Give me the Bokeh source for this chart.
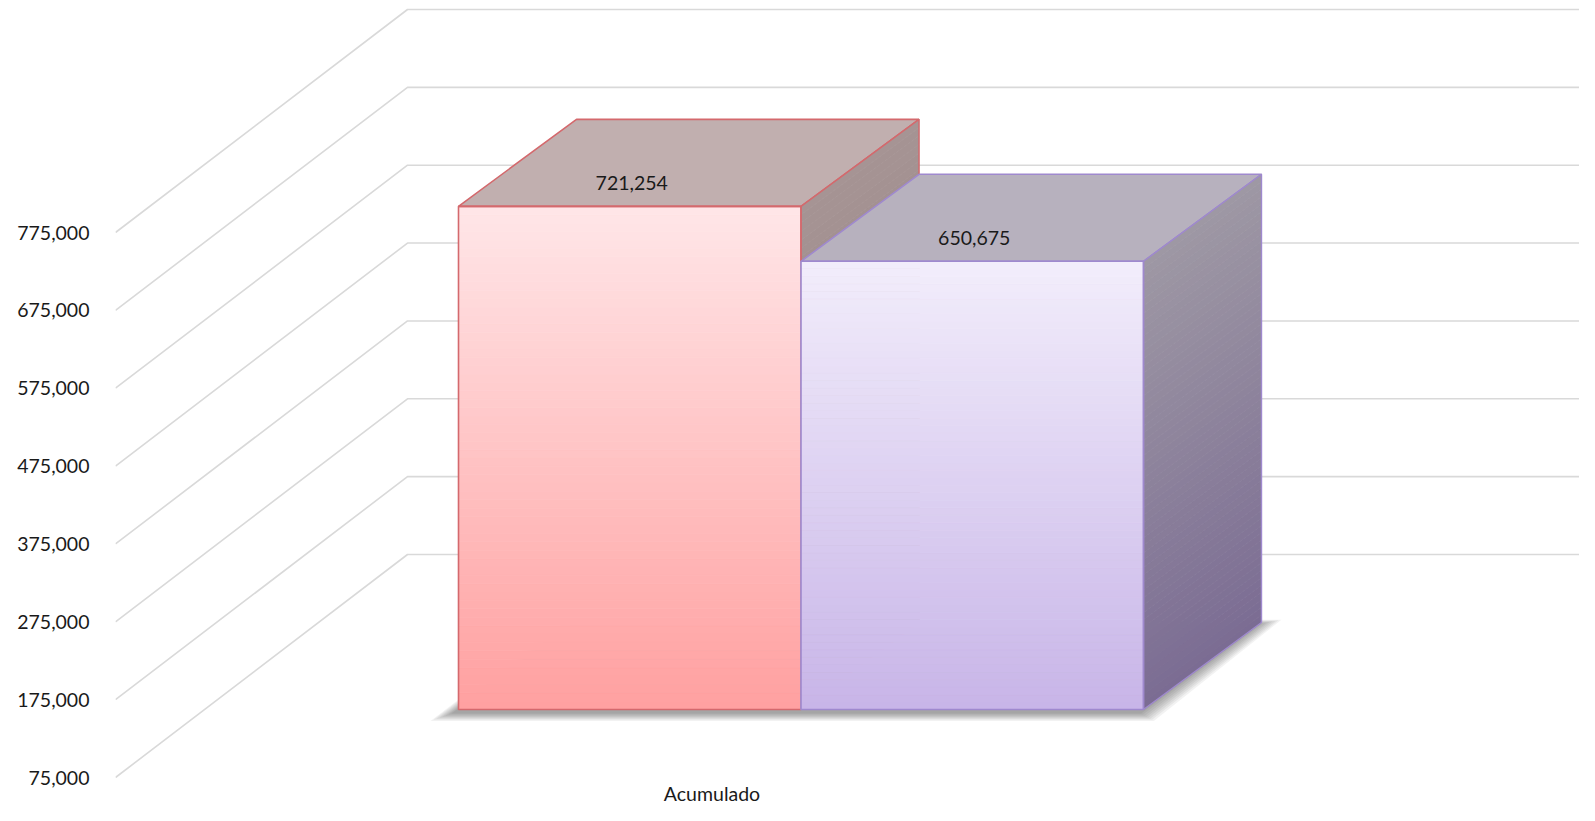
import numpy as np
from bokeh.plotting import figure
from bokeh.models import Range1d, FixedTicker
from bokeh.core.properties import value
from bokeh.embed import file_html
from bokeh.resources import INLINE

# ---------------- data ----------------
categories = ["Acumulado"]
series_values = [721254, 650675]
y_ticks = [75000, 175000, 275000, 375000, 475000, 575000, 675000, 775000]
y_tick_labels = ["75,000", "175,000", "275,000", "375,000", "475,000", "575,000", "675,000", "775,000"]

# ---------------- layout / style ----------------
W, H = 1579, 805
LEFT = 115
PPU = 545.0 / 700000.0          # screen px per value unit
Y0 = y_ticks[0]
BASE_Y = 777                    # screen y of Y0 on the front plane
y_start = Y0 - (H - BASE_Y) / PPU
y_end = y_start + H / PPU
X_LEFT, X_RIGHT = LEFT, W


def up(px):
    return px / PPU


WALL = (292, 223)
FRONT_OFF = (89, 68)
DEPTH = (118, 87)
BAR_W = 342.5
CAT_X = 711.5

FONT = "Lato"
FS = "19.5px"
TXT = "#1a1a1a"

front_cols = [("#FFA0A0", "#FFE6E8"), ("#C8B5E8", "#F2EDFB")]   # (bottom, top)
side_cols = [("#8E7B7B", "#A69494"), ("#7B6C93", "#9E98A4")]
top_cols = ["#C1AFAF", "#B7B1BE"]
edge_cols = ["#D4696D", "#9F89CE"]


def hex2rgb(h):
    h = h.lstrip("#")
    return np.array([int(h[i:i + 2], 16) for i in (0, 2, 4)], dtype=float)


def mix(c0, c1, t):
    a, b = hex2rgb(c0), hex2rgb(c1)
    c = a + (b - a) * t
    return "#%02x%02x%02x" % tuple(int(round(v)) for v in c)


p = figure(width=W, height=H, output_backend="svg", toolbar_location=None,
           x_range=Range1d(X_LEFT, X_RIGHT), y_range=Range1d(y_start, y_end),
           x_axis_location=None, min_border_left=LEFT, min_border_right=0,
           min_border_top=0, min_border_bottom=0)
p.outline_line_color = None
p.xgrid.visible = False
p.ygrid.visible = False
p.background_fill_color = "white"
p.border_fill_color = "white"

# gridlines (front diagonal + back wall)
gx, gy = [], []
for t in y_ticks:
    gx.append([X_LEFT, X_LEFT + WALL[0], X_RIGHT + 10])
    gy.append([t, t + up(WALL[1]), t + up(WALL[1])])
p.multi_line(gx, gy, line_color="#D9D9D9", line_width=1.6)

# y axis
ax = p.yaxis[0]
ax.ticker = FixedTicker(ticks=y_ticks)
ax.major_label_overrides = {t: l for t, l in zip(y_ticks, y_tick_labels)}
ax.axis_line_color = None
ax.major_tick_line_color = None
ax.minor_tick_line_color = None
ax.major_tick_out = 0
ax.major_tick_in = 0
ax.major_label_standoff = 26
ax.major_label_text_font = FONT
ax.major_label_text_font_size = FS
ax.major_label_text_color = TXT

n = len(series_values)
bottom = Y0 + up(FRONT_OFF[1])
x_first = CAT_X - n * BAR_W / 2 + FRONT_OFF[0]
x_last = x_first + n * BAR_W

# soft shadow under the bars
sh_x = [x_first - 4, x_last - 4, x_last + DEPTH[0] - 4, x_first + DEPTH[0] - 4]
for s in range(24, 0, -3):
    xs = [sh_x[0] - s, sh_x[1] + s * 0.6, sh_x[2] + s, sh_x[3] - s * 0.4]
    ys = [bottom - up(3 + s * 0.35), bottom - up(3 + s * 0.35),
          bottom + up(DEPTH[1] - 2 + s * 0.2), bottom + up(DEPTH[1] - 2 + s * 0.2)]
    p.patch(xs, ys, fill_color="#000000", fill_alpha=0.05, line_color=None)

N = 60
for i, v in enumerate(series_values):
    xl = x_first + i * BAR_W
    xr = xl + BAR_W
    top = v + up(FRONT_OFF[1])
    edges = np.linspace(bottom, top, N + 1)
    # front face gradient
    cols = [mix(front_cols[i][0], front_cols[i][1], (k + 0.5) / N) for k in range(N)]
    p.quad(left=xl, right=xr, bottom=edges[:-1], top=edges[1:],
           fill_color=cols, line_color=cols, line_width=0.8)
    # top face
    p.patch([xl, xr, xr + DEPTH[0], xl + DEPTH[0]],
            [top, top, top + up(DEPTH[1]), top + up(DEPTH[1])],
            fill_color=top_cols[i], line_color=edge_cols[i], line_width=1.6)
    # side face gradient
    sxs, sys, scol = [], [], []
    for k in range(N):
        e0, e1 = edges[k], edges[k + 1]
        sxs.append([xr, xr, xr + DEPTH[0], xr + DEPTH[0]])
        sys.append([e0, e1, e1 + up(DEPTH[1]), e0 + up(DEPTH[1])])
        scol.append(mix(side_cols[i][0], side_cols[i][1], (k + 0.5) / N))
    p.patches(sxs, sys, fill_color=scol, line_color=scol, line_width=0.8)
    # outlines
    p.patch([xl, xr, xr, xl], [bottom, bottom, top, top], fill_alpha=0,
            line_color=edge_cols[i], line_width=1.6)
    p.patch([xr, xr + DEPTH[0], xr + DEPTH[0], xr],
            [bottom, bottom + up(DEPTH[1]), top + up(DEPTH[1]), top], fill_alpha=0,
            line_color=edge_cols[i], line_width=1.4)

# value labels
lab_x = [x_first + i * BAR_W + BAR_W / 2 + 2 for i in range(n)]
lab_y = [v + up(FRONT_OFF[1] + 23) for v in series_values]
p.text(x=lab_x, y=lab_y, text=["{:,}".format(v) for v in series_values],
       text_font=value(FONT), text_font_size=FS, text_color=TXT,
       text_align="center", text_baseline="middle")

# category label (kept inside the figure)
p.text(x=[CAT_X], y=[Y0 - up(16)], text=categories,
       text_font=value(FONT), text_font_size=FS, text_color=TXT,
       text_align="center", text_baseline="middle")

open("out.html", "w").write(file_html(p, INLINE))
